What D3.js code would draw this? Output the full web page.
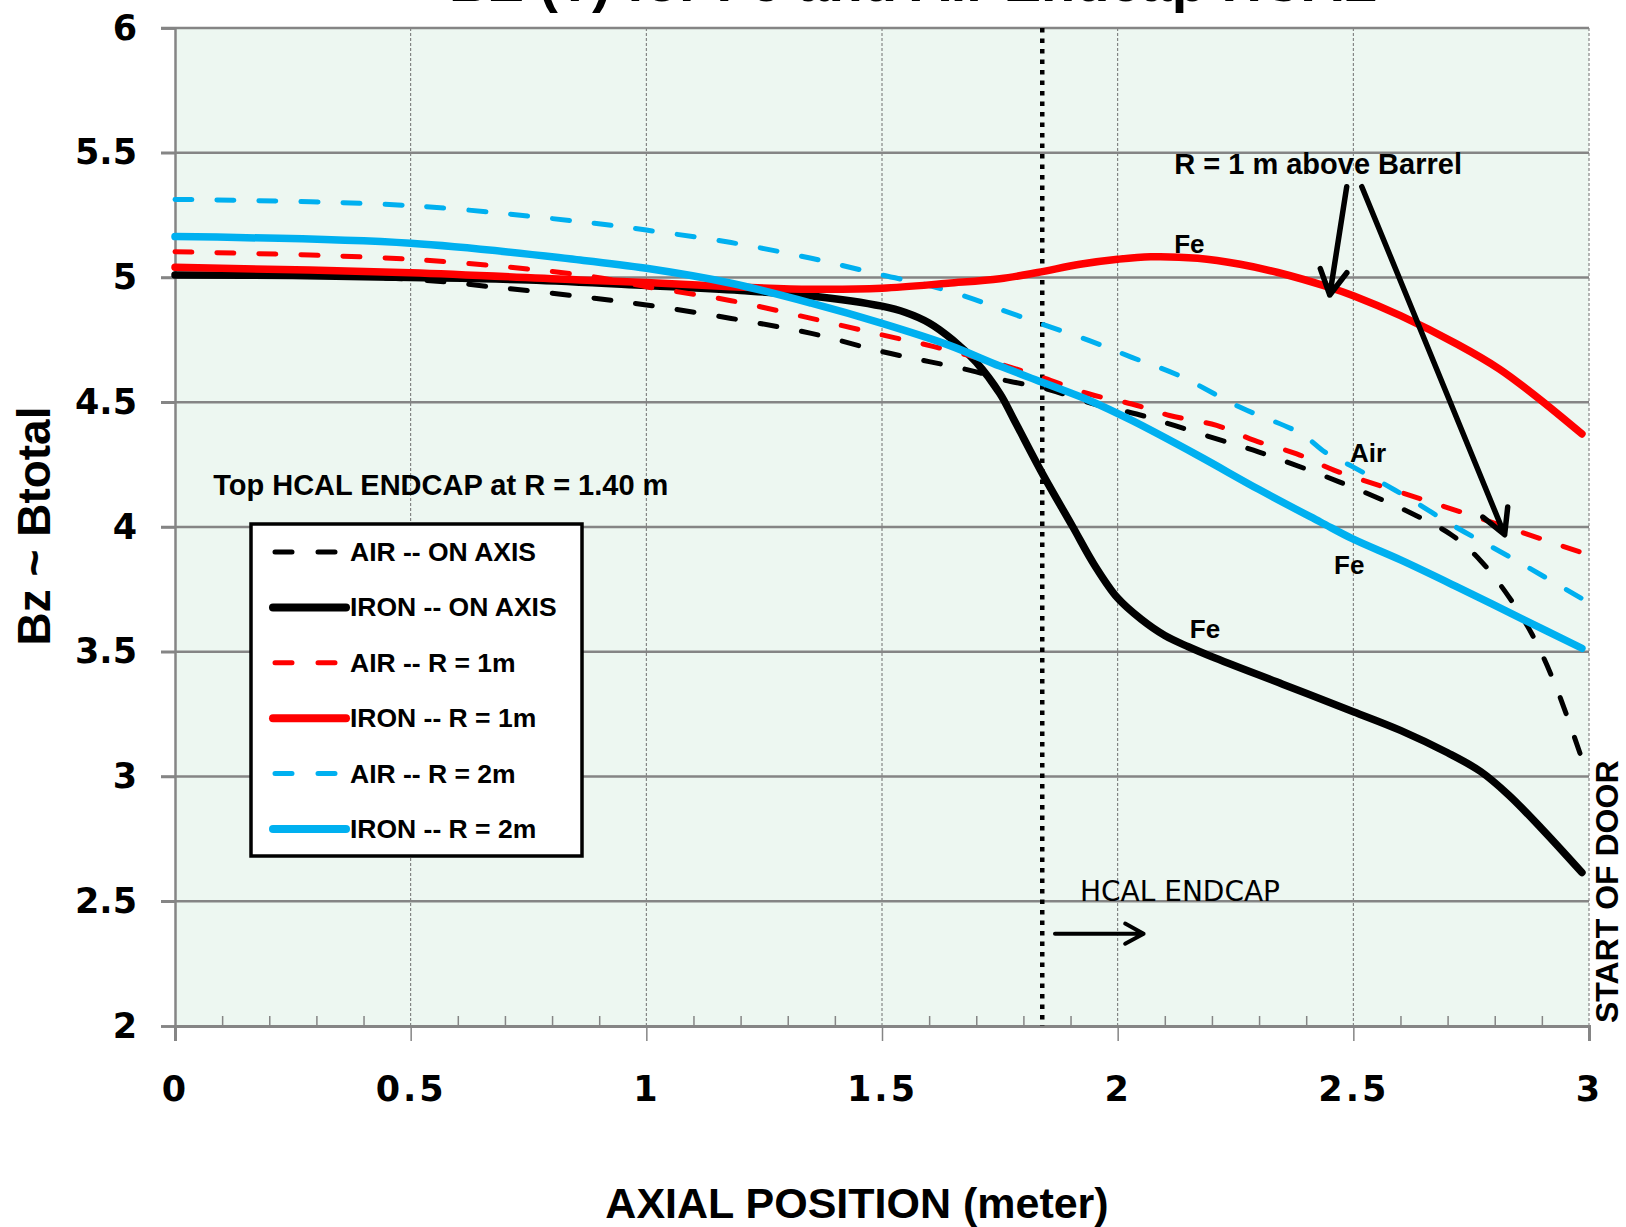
<!DOCTYPE html>
<meta charset="utf-8">
<style>
body { margin: 0; background: #fff; }
text { font-family: "Liberation Sans", Arial, sans-serif; font-weight: bold; }
.tick-lab text { font-family: "DejaVu Sans", sans-serif; font-size: 35px; font-weight: bold; }
</style>
<svg width="1626" height="1227"></svg>
<script src="https://d3js.org/d3.v7.min.js"></script>
<script>

// series values, [axial position (m), Bz (T)]
var airOnAxis = [[0,5.01],[0.25,5.006],[0.5,4.993],[0.7,4.957],[0.89,4.917],[1.0,4.89],[1.18,4.836],
  [1.35,4.776],[1.5,4.703],[1.6,4.663],[1.7,4.622],[1.75,4.593],[1.85,4.553],[1.95,4.493],[2.04,4.453],
  [2.12,4.407],[2.21,4.353],[2.3,4.30],[2.47,4.181],[2.62,4.058],[2.71,3.966],[2.77,3.865],[2.83,3.72],
  [2.88,3.567],[2.93,3.36],[2.985,3.07]];
var ironOnAxis = [[0,5.01],[0.25,5.008],[0.5,5.0],[0.75,4.99],[1.0,4.968],[1.2,4.948],[1.35,4.926],
  [1.5,4.885],[1.55,4.86],[1.6,4.818],[1.65,4.75],[1.7,4.66],[1.75,4.535],[1.78,4.43],[1.84,4.215],
  [1.905,4.0],[1.95,3.85],[2.0,3.715],[2.05,3.63],[2.1,3.565],[2.15,3.52],[2.2,3.48],[2.35,3.37],
  [2.5,3.26],[2.6,3.185],[2.7,3.095],[2.77,3.02],[2.83,2.925],[2.9,2.79],[2.985,2.615]];
var airR1 = [[0,5.103],[0.5,5.073],[0.88,5.005],[1.0,4.963],[1.18,4.907],[1.35,4.836],[1.5,4.77],
  [1.61,4.723],[1.75,4.653],[1.84,4.60],[1.94,4.533],[2.03,4.493],[2.11,4.447],[2.21,4.407],
  [2.29,4.347],[2.38,4.293],[2.46,4.227],[2.62,4.127],[2.78,4.028],[2.985,3.897]];
var ironR1 = [[0,5.041],[0.5,5.019],[0.86,4.99],[1.0,4.98],[1.18,4.963],[1.35,4.953],[1.5,4.957],
  [1.64,4.977],[1.75,4.995],[1.83,5.02],[1.92,5.053],[2.0,5.073],[2.07,5.083],[2.17,5.077],
  [2.26,5.053],[2.34,5.02],[2.45,4.96],[2.5,4.927],[2.6,4.847],[2.72,4.733],[2.81,4.633],
  [2.89,4.52],[2.985,4.373]];
var airR2 = [[0,5.313],[0.5,5.288],[0.89,5.217],[1.0,5.19],[1.18,5.14],[1.35,5.077],[1.5,5.01],
  [1.61,4.963],[1.71,4.903],[1.75,4.873],[1.84,4.813],[1.94,4.747],[2.03,4.68],[2.13,4.607],
  [2.26,4.48],[2.39,4.373],[2.44,4.30],[2.5,4.24],[2.6,4.135],[2.72,3.997],[2.83,3.882],[2.985,3.713]];
var ironR2 = [[0,5.164],[0.5,5.137],[0.86,5.07],[1.0,5.037],[1.18,4.977],[1.35,4.897],[1.5,4.816],
  [1.64,4.73],[1.75,4.645],[1.84,4.58],[1.94,4.507],[2.03,4.427],[2.17,4.287],[2.3,4.15],[2.43,4.02],
  [2.5,3.951],[2.6,3.868],[2.72,3.76],[2.86,3.63],[2.985,3.514]];

var seriesNames = ["AIR -- ON AXIS", "IRON -- ON AXIS", "AIR -- R = 1m", "IRON -- R = 1m", "AIR -- R = 2m", "IRON -- R = 2m"];
var seriesData = [airOnAxis, ironOnAxis, airR1, ironR1, airR2, ironR2];
var seriesColors = ["#000000", "#000000", "#ff0000", "#ff0000", "#00b0f0", "#00b0f0"];
var seriesDashed = [true, false, true, false, true, false];

var xTicks = [0, 0.5, 1, 1.5, 2, 2.5, 3];
var yTicks = [2, 2.5, 3, 3.5, 4, 4.5, 5, 5.5, 6];
var hcalStart = 1.84;

var svg = d3.select("svg");
var x = d3.scaleLinear().domain([0, 3]).range([175, 1589]);
var y = d3.scaleLinear().domain([2, 6]).range([1026, 28]);

// title, mostly cut off at top as in the original
svg.append("text").attr("x", 913).attr("y", 1).attr("text-anchor", "middle")
  .style("font-size", "56px").text("BZ (T) for Fe and Air Endcap HCAL");

// plot background
svg.append("rect").attr("x", x(0)).attr("y", y(6)).attr("width", x(3) - x(0)).attr("height", y(2) - y(6))
  .attr("fill", "#edf7f1");

// vertical dotted grid
svg.append("g").selectAll("line").data(xTicks.slice(1)).enter().append("line")
  .attr("x1", d => x(d)).attr("x2", d => x(d)).attr("y1", y(6)).attr("y2", y(2))
  .attr("stroke", "#707070").attr("stroke-width", 1).attr("stroke-dasharray", "3,2");

// horizontal grid
svg.append("g").selectAll("line").data(yTicks.slice(1)).enter().append("line")
  .attr("x1", x(0) - 14).attr("x2", x(3)).attr("y1", d => y(d)).attr("y2", d => y(d))
  .attr("stroke", "#858585").attr("stroke-width", 2.5);

// y axis
var yAxis = svg.append("g").attr("class", "tick-lab").attr("transform", "translate(" + x(0) + ",0)")
  .call(d3.axisLeft(y).tickValues(yTicks).tickSize(14).tickPadding(24).tickFormat(d3.format("")));
yAxis.select(".domain").attr("stroke", "#858585").attr("stroke-width", 2.5);
yAxis.selectAll(".tick line").attr("stroke", "#858585").attr("stroke-width", 2.5);
yAxis.selectAll(".tick text").attr("fill", "#000");

// x axis: major ticks below, minor ticks inside
var xAxis = svg.append("g").attr("class", "tick-lab").attr("transform", "translate(0," + y(2) + ")")
  .call(d3.axisBottom(x).tickValues(xTicks).tickSize(15).tickPadding(28).tickFormat(d3.format("")));
xAxis.select(".domain").attr("stroke", "#858585").attr("stroke-width", 3);
xAxis.selectAll(".tick line").attr("stroke", "#858585").attr("stroke-width", 1.5);
xAxis.selectAll(".tick text").attr("fill", "#000").attr("dy", "0.9em").style("letter-spacing", "3px");

var minor = d3.range(1, 30).map(d => d / 10).filter(d => Math.abs(d * 2 - Math.round(d * 2)) > 1e-6);
svg.append("g").attr("transform", "translate(0," + y(2) + ")")
  .call(d3.axisTop(x).tickValues(minor).tickSize(10).tickFormat(""))
  .call(g => g.select(".domain").remove())
  .selectAll(".tick line").attr("stroke", "#858585").attr("stroke-width", 1.5);

// HCAL endcap start
svg.append("line").attr("x1", x(hcalStart)).attr("x2", x(hcalStart)).attr("y1", y(6)).attr("y2", y(2))
  .attr("stroke", "#000").attr("stroke-width", 4.5).attr("stroke-dasharray", "4.5,6");

// curves
var line = d3.line().x(d => x(d[0])).y(d => y(d[1])).curve(d3.curveCatmullRom.alpha(0.5));
var order = [1, 0, 2, 4, 3, 5];
svg.append("g").selectAll("path").data(order).enter().append("path")
  .attr("d", i => line(seriesData[i]))
  .attr("fill", "none")
  .attr("stroke", i => seriesColors[i])
  .attr("stroke-width", i => seriesDashed[i] ? 5 : 7.5)
  .attr("stroke-linecap", "round").attr("stroke-linejoin", "round")
  .attr("stroke-dasharray", i => seriesDashed[i] ? "17,25" : null);

// legend
var lg = svg.append("g").attr("transform", "translate(251,524)");
lg.append("rect").attr("width", 331).attr("height", 332).attr("fill", "#fff")
  .attr("stroke", "#000").attr("stroke-width", 3.5);
var row = lg.selectAll(".row").data(seriesNames).enter().append("g")
  .attr("transform", (d, i) => "translate(0," + (28 + i * 55.4) + ")");
row.append("line").attr("x1", (d, i) => seriesDashed[i] ? 24 : 22).attr("x2", (d, i) => seriesDashed[i] ? 86 : 95)
  .attr("stroke", (d, i) => seriesColors[i])
  .attr("stroke-width", (d, i) => seriesDashed[i] ? 5 : 8)
  .attr("stroke-linecap", "round")
  .attr("stroke-dasharray", (d, i) => seriesDashed[i] ? "17,26" : null);
row.append("text").attr("x", 99).attr("y", 9).style("font-size", "26.5px").text(d => d);

// annotations in data units
var notes = [
  {t: "Top HCAL ENDCAP at R = 1.40 m", x: 0.081, y: 4.128, s: 29},
  {t: "R = 1 m above Barrel", x: 2.12, y: 5.415, s: 29},
  {t: "Fe", x: 2.12, y: 5.098, s: 26},
  {t: "Air", x: 2.493, y: 4.26, s: 26},
  {t: "Fe", x: 2.459, y: 3.812, s: 26},
  {t: "Fe", x: 2.153, y: 3.555, s: 26}
];
svg.append("g").selectAll("text").data(notes).enter().append("text")
  .attr("x", d => x(d.x)).attr("y", d => y(d.y)).style("font-size", d => d.s + "px").text(d => d.t);

svg.append("text").attr("x", x(1.92)).attr("y", y(2.5))
  .style("font-family", "'Comic Sans MS', 'DejaVu Sans', cursive").style("font-weight", "normal")
  .style("font-size", "28px").text("HCAL ENDCAP");

// arrows
var arrows = [
  {x1: 2.486, y1: 5.364, x2: 2.450, y2: 4.93, w: 5.5, h: 28},
  {x1: 2.518, y1: 5.364, x2: 2.821, y2: 3.969, w: 5.5, h: 28},
  {x1: 1.867, y1: 2.37, x2: 2.055, y2: 2.37, w: 4, h: 21}
];
arrows.forEach(function(a) {
  var X1 = x(a.x1), Y1 = y(a.y1), X2 = x(a.x2), Y2 = y(a.y2);
  var ang = Math.atan2(Y2 - Y1, X2 - X1), sp = 0.5;
  var p = d3.path();
  p.moveTo(X1, Y1); p.lineTo(X2, Y2);
  p.moveTo(X2 - a.h * Math.cos(ang - sp), Y2 - a.h * Math.sin(ang - sp));
  p.lineTo(X2, Y2);
  p.lineTo(X2 - a.h * Math.cos(ang + sp), Y2 - a.h * Math.sin(ang + sp));
  svg.append("path").attr("d", p.toString()).attr("fill", "none").attr("stroke", "#000")
    .attr("stroke-width", a.w).attr("stroke-linecap", "round").attr("stroke-linejoin", "round");
});

// axis titles
svg.append("text").attr("transform", "translate(50,526) rotate(-90)").attr("text-anchor", "middle")
  .style("font-size", "46px").text("Bz ~ Btotal");
svg.append("text").attr("x", 857).attr("y", 1218).attr("text-anchor", "middle")
  .style("font-size", "43px").text("AXIAL POSITION (meter)");
svg.append("text").attr("transform", "translate(" + (x(3) + 29) + "," + (y(2) - 3) + ") rotate(-90)")
  .style("font-size", "32px").text("START OF DOOR");

</script>
